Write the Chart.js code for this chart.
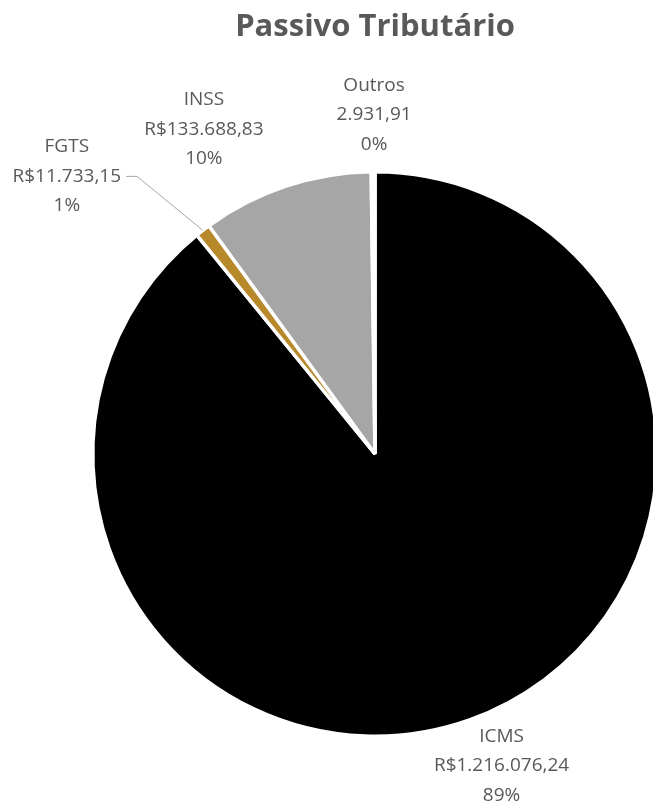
<!DOCTYPE html>
<html>
<head>
<meta charset="utf-8">
<script src="https://cdn.jsdelivr.net/npm/chart.js@4"></script>
<style>
  html, body { margin: 0; padding: 0; background: #ffffff; overflow: hidden; }
  /* the pie runs a few pixels past the right edge, like in the original */
  #wrap { width: 665px; height: 805px; }
</style>
</head>
<body>
<div id="wrap"><canvas id="myChart"></canvas></div>
<script>
const CATEGORIES = ['ICMS', 'FGTS', 'INSS', 'Outros'];
const VALUES = [1216076.24, 11733.15, 133688.83, 2931.91];
const VALUE_LABELS = ['R$1.216.076,24', 'R$11.733,15', 'R$133.688,83', '2.931,91'];

const SLICE_COLORS = ['#000000', '#B8892A', '#A6A6A6', '#FFFFFF'];
const TEXT_COLOR = '#595959';
const LABEL_FONT = '19px "Open Sans"';
const LABEL_LINE_HEIGHT = 29.5;
// where each label block sits, relative to the outer edge of its slice
const LABEL_OFFSETS = [[32, 46], [-136, -54], [-82, -57], [1, -57]];
const HAS_LEADER = [false, true, false, false];

const TOTAL = VALUES.reduce((a, b) => a + b, 0);
const PERCENT_LABELS = VALUES.map(v => Math.round(v / TOTAL * 100) + '%');

// Draws the three-line labels (name, value, percent) next to each slice
const SLICE_LABELS = {
  id: 'sliceLabels',
  afterDatasetsDraw(chart) {
    const { ctx } = chart;
    const meta = chart.getDatasetMeta(0);
    ctx.save();
    ctx.font = LABEL_FONT;
    ctx.fillStyle = TEXT_COLOR;
    ctx.textAlign = 'center';
    ctx.textBaseline = 'middle';
    meta.data.forEach((arc, i) => {
      const { x, y, startAngle, endAngle, outerRadius } =
        arc.getProps(['x', 'y', 'startAngle', 'endAngle', 'outerRadius'], true);
      const MID = (startAngle + endAngle) / 2;
      const AX = x + Math.cos(MID) * outerRadius;
      const AY = y + Math.sin(MID) * outerRadius;
      const LX = AX + LABEL_OFFSETS[i][0];
      const LY = AY + LABEL_OFFSETS[i][1];
      const LINES = [CATEGORIES[i], VALUE_LABELS[i], PERCENT_LABELS[i]];

      LINES.forEach((text, k) => {
        ctx.fillText(text, LX, LY + (k - 1) * LABEL_LINE_HEIGHT);
      });

      // leader line for the small slice
      if (HAS_LEADER[i]) {
        const RIGHT = LX + ctx.measureText(VALUE_LABELS[i]).width / 2;
        ctx.beginPath();
        ctx.moveTo(AX, AY);
        ctx.lineTo(RIGHT + 16, LY);
        ctx.lineTo(RIGHT + 5, LY);
        ctx.strokeStyle = '#A6A6A6';
        ctx.lineWidth = 1;
        ctx.stroke();
      }
    });
    ctx.restore();
  }
};

const CONFIG = {
  type: 'pie',
  data: {
    labels: CATEGORIES,
    datasets: [{
      data: VALUES,
      backgroundColor: SLICE_COLORS,
      borderColor: '#FFFFFF',
      borderWidth: 3.5
    }]
  },
  options: {
    responsive: true,
    maintainAspectRatio: false,
    animation: false,
    layout: {
      padding: { left: 91, right: 6, top: 0, bottom: 67 }
    },
    plugins: {
      legend: { display: false },
      tooltip: { enabled: false },
      title: {
        display: true,
        text: 'Passivo Tributário',
        color: TEXT_COLOR,
        font: { family: 'Open Sans', size: 31, weight: 'bold', lineHeight: 1.2 },
        padding: { top: 9, bottom: 123.8 }
      }
    }
  },
  plugins: [SLICE_LABELS]
};

const MY_CHART = new Chart(document.getElementById('myChart'), CONFIG);
</script>
</body>
</html>
